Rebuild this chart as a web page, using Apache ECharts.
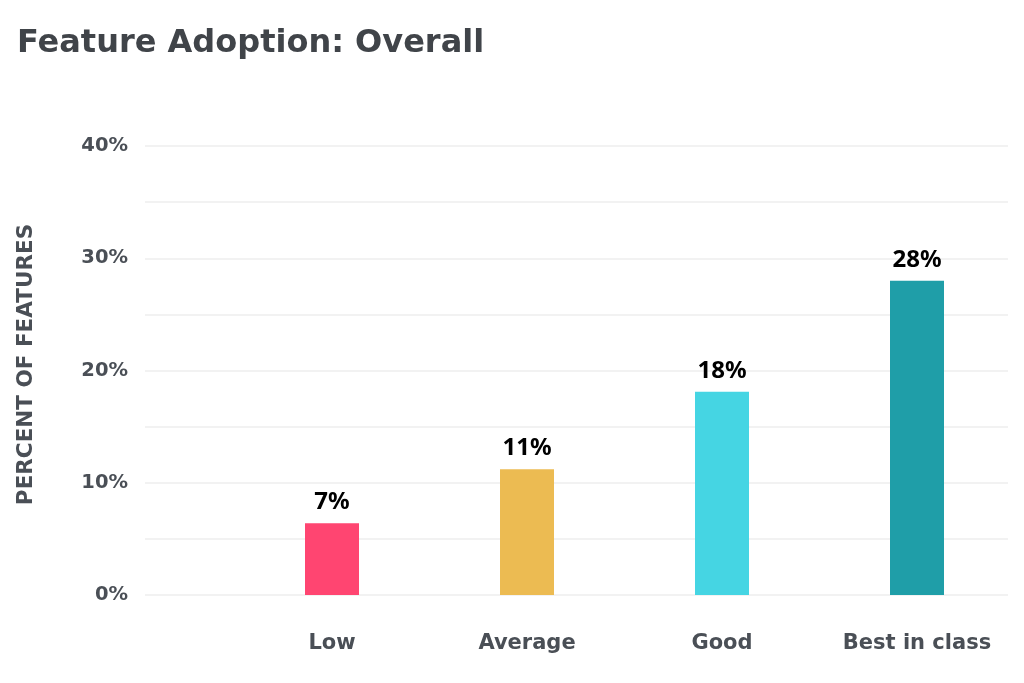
<!DOCTYPE html>
<html>
<head>
<meta charset="utf-8">
<script src="https://cdn.jsdelivr.net/npm/echarts@6/dist/echarts.min.js"></script>
<style>html,body{margin:0;padding:0;background:#fff;}#c{width:1024px;height:683px;}</style>
</head>
<body>
<div id="c"></div>
<script>
const categories = ['Low', 'Average', 'Good', 'Best in class'];
const values = [6.4, 11.2, 18.1, 28];
const valueLabels = ['7%', '11%', '18%', '28%'];
const barColors = ['#ff4571', '#ecbb52', '#45d5e3', '#1f9ea8'];
const yTicks = [0, 10, 20, 30, 40];

const chart = echarts.init(document.getElementById('c'), null, {renderer: 'canvas'});
const gray = '#4a4f56';
const font = 'DejaVu Sans';
chart.setOption({
  animation: false,
  title: {
    text: 'Feature Adoption: Overall',
    left: 12, top: 23,
    textStyle: {fontFamily: font, fontWeight: 'bold', fontSize: 32, color: '#404449'}
  },
  grid: [
    {left: 145, right: 16, top: 146, bottom: 88},
    {left: 234.5, right: 9.5, top: 146, bottom: 88}
  ],
  xAxis: [
    {type: 'category', gridIndex: 0, show: false, data: categories},
    {
      type: 'category', gridIndex: 1, data: categories,
      axisLine: {show: false}, axisTick: {show: false},
      axisLabel: {margin: 38, fontFamily: font, fontWeight: 'bold', fontSize: 21, color: gray}
    }
  ],
  yAxis: [
    {
      type: 'value', gridIndex: 0, min: yTicks[0], max: yTicks[yTicks.length - 1], interval: 5,
      name: 'PERCENT OF FEATURES', nameLocation: 'middle', nameRotate: 90, nameGap: 108,
      nameTextStyle: {fontFamily: font, fontWeight: 'bold', fontSize: 21.5, color: gray, padding: [0, 0, 0, 12]},
      axisLine: {show: false}, axisTick: {show: false},
      splitLine: {lineStyle: {color: '#eeeeee', width: 1.5}},
      axisLabel: {
        margin: 17, fontFamily: font, fontWeight: 'bold', fontSize: 19.5, color: gray,
        formatter: v => (yTicks.indexOf(v) >= 0 ? v + '%' : '')
      }
    },
    {type: 'value', gridIndex: 1, min: 0, max: 40, show: false}
  ],
  series: [{
    type: 'bar', xAxisIndex: 1, yAxisIndex: 1,
    barWidth: 54,
    data: values.map((v, i) => ({value: v, itemStyle: {color: barColors[i]}})),
    label: {
      show: true, position: 'top', distance: 9,
      fontFamily: 'Noto Sans', fontWeight: 'bold', fontSize: 24, color: '#000',
      formatter: p => valueLabels[p.dataIndex]
    }
  }]
});
</script>
</body>
</html>
